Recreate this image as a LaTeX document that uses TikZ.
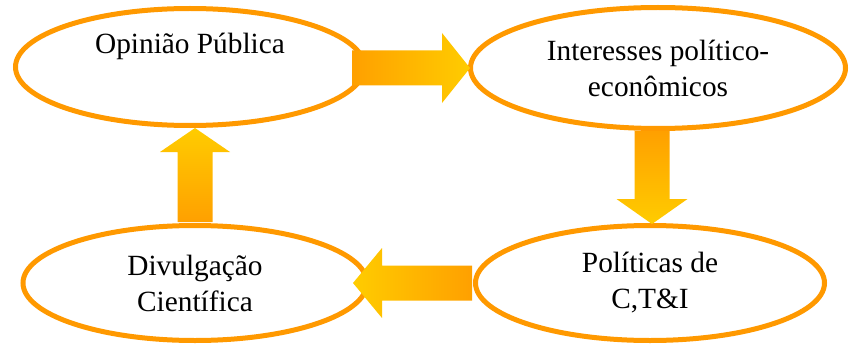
\documentclass[tikz,border=0pt]{standalone}
\usepackage{fontspec}
\setmainfont{Liberation Serif}
\usetikzlibrary{shapes.geometric,calc}

\definecolor{ringorange}{RGB}{255,153,0}
\definecolor{tailorange}{RGB}{255,160,0}
\definecolor{tipyellow}{RGB}{255,204,0}

\begin{document}
\begin{tikzpicture}[
  x=0.75pt, y=-0.75pt,
  ring/.style={ellipse,draw=ringorange,line width=3.75pt,fill=white,
    inner sep=0pt,align=center,font=\fontsize{22pt}{27pt}\selectfont},
  blockarrow/.style={draw=none}
]
\useasboundingbox (0,0) rectangle (849,346);

% ---- ellipses ----
\node[ring,minimum width=261.75pt,minimum height=87.75pt] (op) at (190,67)
  {Opinião Pública\\\strut};
\node[ring,minimum width=281.25pt,minimum height=90.75pt] (ie) at (658,68)
  {Interesses político-\\econômicos};
\node[ring,minimum width=261.75pt,minimum height=86.25pt] (pc) at (650,283)
  {Políticas de\\C,T\&I};
\node[ring,minimum width=258pt,minimum height=86.25pt] (dc) at (195,283)
  {Divulgação\\Científica};

% ---- block arrows ----
% op -> ie
\shade[blockarrow,left color=tailorange,right color=tipyellow]
  ([shift={(2,0)}]ie.west) -- ++(-28,-35) -- ++(0,17.5) -- ++(-90,0)
  -- ++(0,35) -- ++(90,0) -- ++(0,17.5) -- cycle;
% ie -> pc
\shade[blockarrow,top color=tailorange,bottom color=tipyellow]
  ([shift={(2,1)}]pc.north) -- ++(-35.5,-25) -- ++(18,0) -- ++(0,-68)
  -- ++(35,0) -- ++(0,68) -- ++(18,0) -- cycle;
% pc -> dc
\shade[blockarrow,left color=tipyellow,right color=tailorange]
  ([shift={(-1,-17.5)}]pc.west) -- ++(-90,0) -- ++(0,-17.5) -- ++(-29,35)
  -- ++(29,35) -- ++(0,-17.5) -- ++(90,0) -- cycle;
% dc -> op
\shade[blockarrow,top color=tipyellow,bottom color=tailorange]
  ([shift={(-17.5,-1)}]dc.north) -- ++(0,-70) -- ++(-17.5,0) -- ++(35,-24)
  -- ++(35,24) -- ++(-17.5,0) -- ++(0,70) -- cycle;

\end{tikzpicture}
\end{document}
